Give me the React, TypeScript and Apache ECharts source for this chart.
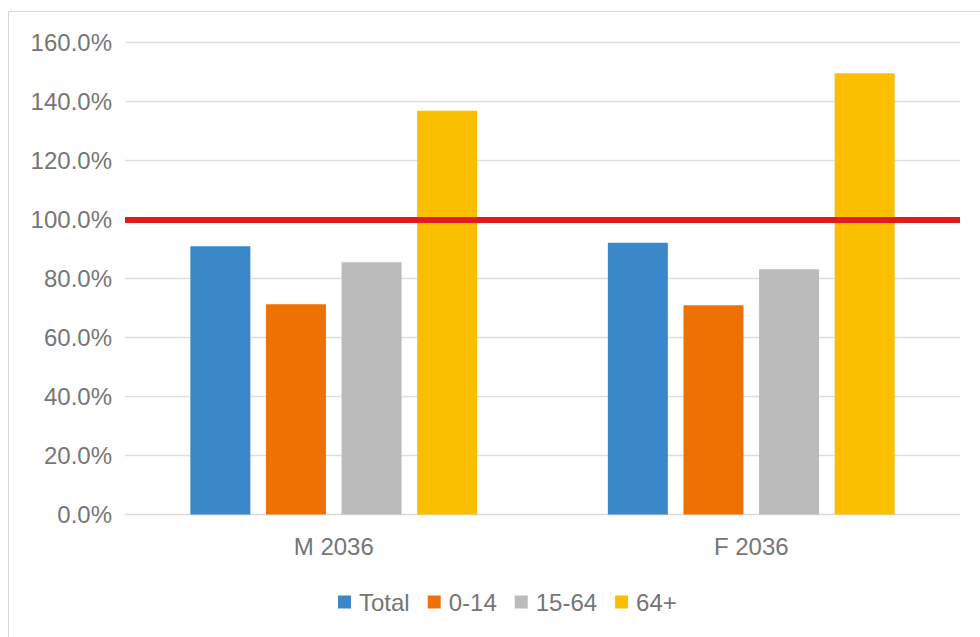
import React, { useEffect, useRef } from "react";
import * as echarts from "echarts";

const categories = ["M 2036", "F 2036"];
const seriesNames = ["Total", "0-14", "15-64", "64+"];
const totalValues = [90.9, 92.1];
const age0to14Values = [71.3, 70.9];
const age15to64Values = [85.5, 83.1];
const age64plusValues = [136.9, 149.6];
const referenceValue = 100;
const yTicks = { min: 0, max: 160, interval: 20 };

const colors = ["#3A87C9", "#EE7203", "#BBBBBB", "#FBBF00"];
const textColor = "#767676";
const fontFamily = "Liberation Sans, Arial, sans-serif";

export default function App() {
  const ref = useRef<HTMLDivElement>(null);
  useEffect(() => {
    if (!ref.current) return;
    const chart = echarts.init(ref.current, null, { renderer: "svg" });
    const dataSets = [totalValues, age0to14Values, age15to64Values, age64plusValues];
    chart.setOption({
      animation: false,
      backgroundColor: "#ffffff",
      textStyle: { fontFamily },
      graphic: [
        {
          type: "rect",
          shape: { x: 8.5, y: 11.5, width: 1000, height: 700 },
          style: { fill: "none", stroke: "#D9D9D9", lineWidth: 1 },
          silent: true,
          z: -1,
        },
      ],
      grid: { left: 125, right: 20, top: 42.5, bottom: 122.5, containLabel: false },
      legend: {
        data: seriesNames,
        left: 338,
        top: 590,
        padding: 0,
        icon: "rect",
        itemWidth: 13,
        itemHeight: 13,
        itemGap: 18,
        textStyle: { fontSize: 24, color: textColor, fontFamily, padding: [0, 0, 0, 3] },
      },
      xAxis: {
        type: "category",
        data: categories,
        axisLine: { show: true, lineStyle: { color: "#D9D9D9", width: 1 } },
        axisTick: { show: false },
        axisLabel: { fontSize: 24, color: textColor, fontFamily, margin: 20 },
      },
      yAxis: {
        type: "value",
        min: yTicks.min,
        max: yTicks.max,
        interval: yTicks.interval,
        axisLine: { show: false },
        axisTick: { show: false },
        splitLine: { lineStyle: { color: "#DEDEDE", width: 1.3 } },
        axisLabel: {
          fontSize: 24,
          color: textColor,
          fontFamily,
          margin: 13,
          formatter: (v: number) => v.toFixed(1) + "%",
        },
      },
      series: seriesNames.map((name, i) => {
        const s: any = {
          name,
          type: "bar",
          data: dataSets[i],
          barWidth: 60,
          barGap: "26%",
          itemStyle: { color: colors[i] },
        };
        if (i === 0) {
          s.markLine = {
            silent: true,
            symbol: ["none", "none"],
            label: { show: false },
            lineStyle: { color: "#E31A1C", width: 6, type: "solid" },
            data: [{ yAxis: referenceValue }],
            z: 10,
          };
        }
        return s;
      }),
    });
    return () => chart.dispose();
  }, []);
  return (
    <div
      ref={ref}
      style={{ position: "fixed", left: 0, top: 0, width: 980, height: 637 }}
    />
  );
}
